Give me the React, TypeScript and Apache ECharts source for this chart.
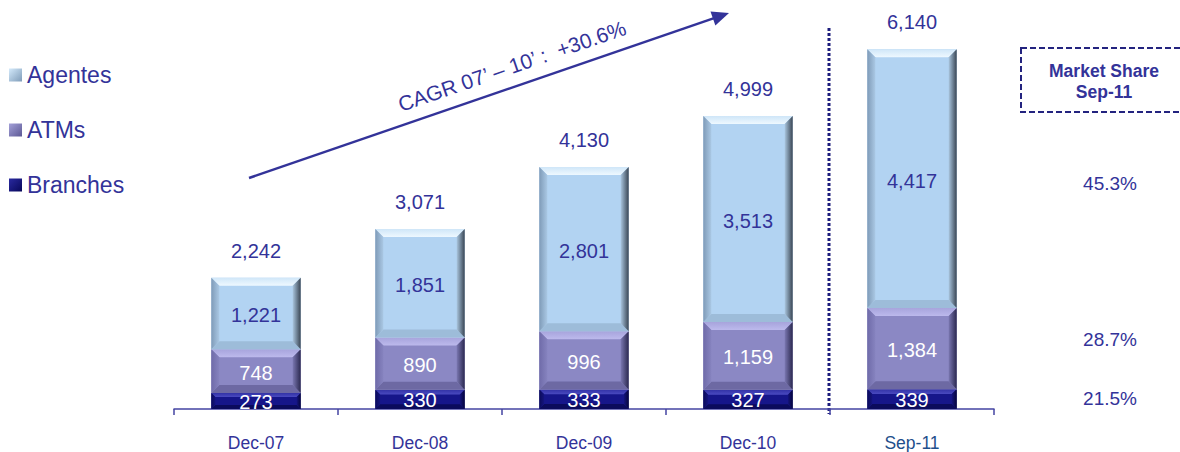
import React, { useEffect, useRef } from "react";
import * as echarts from "echarts";

const categories = ["Dec-07", "Dec-08", "Dec-09", "Dec-10", "Sep-11"];
const branches = [273, 330, 333, 327, 339];
const atms = [748, 890, 996, 1159, 1384];
const agentes = [1221, 1851, 2801, 3513, 4417];
const seriesNames = ["Agentes", "ATMs", "Branches"];
const marketShareTitle = ["Market Share", "Sep-11"];
const marketShare = ["45.3%", "28.7%", "21.5%"]; // Agentes, ATMs, Branches
const cagrLabel = "CAGR 07\u2019 \u2013 10\u2019 :  +30.6%";

const FONT = "'Liberation Sans', Arial, sans-serif";
const TXT = "#333399";

type Pal = { main: string; top: string; topIn: string; left: [string, string]; right: [string, string]; bottom: string; label: string };

const palAgentes: Pal = {
  main: "#b2d3f2",
  top: "#cfe6f8",
  topIn: "#eef8ff",
  left: ["#7f9bb8", "#aac8e4"],
  right: ["#a9c5de", "#3a4654"],
  bottom: "#9dbcd9",
  label: TXT,
};
const palAtms: Pal = {
  main: "#8b88c4",
  top: "#a7a4dc",
  topIn: "#bcb9ec",
  left: ["#6f6ba9", "#8683bf"],
  right: ["#7a77b1", "#2b2950"],
  bottom: "#6d69a3",
  label: "#ffffff",
};
const palBranches: Pal = {
  main: "#16168a",
  top: "#3232a6",
  topIn: "#4a4ac0",
  left: ["#0b0b5a", "#14147e"],
  right: ["#14147e", "#05053a"],
  bottom: "#0b0b5c",
  label: "#ffffff",
};

function lin(x1: number, y1: number, x2: number, y2: number, c: [string, string]) {
  return new echarts.graphic.LinearGradient(x1, y1, x2, y2, [
    { offset: 0, color: c[0] },
    { offset: 1, color: c[1] },
  ]);
}

function makeRender(pal: Pal, values: number[], showTotal: boolean, totals: number[], labelDy: number) {
  return (params: any, api: any) => {
    const i = api.value(0);
    const lo = api.value(1);
    const hi = api.value(2);
    const p0 = api.coord([i, lo]);
    const p1 = api.coord([i, hi]);
    const bw = api.size([1, 0])[0] * 0.545;
    const x = p0[0] - bw / 2;
    const y = p1[1];
    const w = bw;
    const h = p0[1] - p1[1];
    const b = Math.min(8, h / 4);
    const children: any[] = [
      { type: "rect", shape: { x, y, width: w, height: h }, style: { fill: pal.main } },
      {
        type: "polygon",
        shape: { points: [[x, y], [x + w, y], [x + w - b, y + b], [x + b, y + b]] },
        style: { fill: lin(0, 0, 0, 1, [pal.top, pal.topIn]) },
      },
      {
        type: "polygon",
        shape: { points: [[x, y + h], [x + w, y + h], [x + w - b, y + h - b], [x + b, y + h - b]] },
        style: { fill: pal.bottom },
      },
      {
        type: "polygon",
        shape: { points: [[x, y], [x + b, y + b], [x + b, y + h - b], [x, y + h]] },
        style: { fill: lin(0, 0, 1, 0, pal.left) },
      },
      {
        type: "polygon",
        shape: { points: [[x + w, y], [x + w - b, y + b], [x + w - b, y + h - b], [x + w, y + h]] },
        style: { fill: lin(0, 0, 1, 0, pal.right) },
      },
      {
        type: "text",
        z2: 10,
        style: {
          x: p0[0],
          y: y + h / 2 + labelDy,
          text: values[i].toLocaleString("en-US"),
          textAlign: "center",
          textVerticalAlign: "middle",
          fill: pal.label,
          font: `20px ${FONT}`,
        },
      },
    ];
    if (showTotal) {
      children.push({
        type: "text",
        z2: 10,
        style: {
          x: p0[0],
          y: y - 27,
          text: totals[i].toLocaleString("en-US"),
          textAlign: "center",
          textVerticalAlign: "middle",
          fill: TXT,
          font: `20px ${FONT}`,
        },
      });
    }
    return { type: "group", children };
  };
}

export default function App() {
  const ref = useRef<HTMLDivElement>(null);
  useEffect(() => {
    if (!ref.current) return;
    const chart = echarts.init(ref.current, null, { renderer: "svg" });
    const totals = categories.map((_, i) => branches[i] + atms[i] + agentes[i]);
    const dBranches = categories.map((_, i) => [i, 0, branches[i]]);
    const dAtms = categories.map((_, i) => [i, branches[i], branches[i] + atms[i]]);
    const dAgentes = categories.map((_, i) => [i, branches[i] + atms[i], totals[i]]);

    // arrow geometry
    const ax1 = 249, ay1 = 178, ax2 = 729, ay2 = 13;
    const len = Math.hypot(ax2 - ax1, ay2 - ay1);
    const dx = (ax2 - ax1) / len, dy = (ay2 - ay1) / len;
    const hl = 17, hw = 7.5;
    const bx = ax2 - dx * hl, by = ay2 - dy * hl;
    const ang = Math.atan2(-(ay2 - ay1), ax2 - ax1);

    chart.setOption({
      animation: false,
      textStyle: { fontFamily: FONT },
      grid: { left: 174, right: 186, top: 0, bottom: 42 },
      legend: {
        orient: "vertical",
        left: 9,
        top: 63,
        padding: 0,
        itemWidth: 13,
        itemHeight: 13,
        itemGap: 31,
        icon: "rect",
        data: seriesNames,
        textStyle: { color: TXT, fontSize: 23, lineHeight: 24, fontFamily: FONT },
        selectedMode: false,
      },
      xAxis: {
        type: "category",
        data: categories.map((c, i) =>
          i === categories.length - 1 ? { value: c, textStyle: { color: "#1f4f8c" } } : c
        ),
        axisLine: { lineStyle: { color: "#4444a2", width: 1.5 } },
        axisTick: { show: true, length: 6, lineStyle: { color: "#4444a2", width: 1.5 } },
        axisLabel: { color: TXT, fontSize: 17.5, margin: 25, fontFamily: FONT },
      },
      yAxis: { type: "value", min: 0, max: 6980, show: false, splitLine: { show: false } },
      series: [
        {
          name: "Branches",
          type: "custom",
          renderItem: makeRender(palBranches, branches, false, totals, 1),
          encode: { x: 0, y: [1, 2] },
          itemStyle: { color: lin(0, 0, 1, 1, ["#2a2aa0", "#08085a"]) },
          data: dBranches,
        },
        {
          name: "ATMs",
          type: "custom",
          renderItem: makeRender(palAtms, atms, false, totals, 1.5),
          encode: { x: 0, y: [1, 2] },
          itemStyle: { color: lin(0, 0, 1, 1, ["#a3a0d8", "#5c5894"]) },
          data: dAtms,
        },
        {
          name: "Agentes",
          type: "custom",
          renderItem: makeRender(palAgentes, agentes, true, totals, 2),
          encode: { x: 0, y: [1, 2] },
          itemStyle: { color: lin(0, 0, 1, 1, ["#d4eafb", "#7f9cb9"]) },
          data: dAgentes,
        },
      ],
      graphic: [
        {
          type: "line",
          shape: { x1: 829, y1: 28, x2: 829, y2: 414 },
          style: { stroke: "#1c1c7c", lineWidth: 3, lineDash: [3, 2] },
        },
        {
          type: "line",
          shape: { x1: ax1, y1: ay1, x2: bx + dx * 2, y2: by + dy * 2 },
          style: { stroke: TXT, lineWidth: 2.5 },
        },
        {
          type: "polygon",
          shape: {
            points: [
              [ax2, ay2],
              [bx - dy * hw, by + dx * hw],
              [bx + dy * hw, by - dx * hw],
            ],
          },
          style: { fill: TXT },
        },
        {
          type: "text",
          x: 512,
          y: 66,
          rotation: ang,
          style: {
            text: cagrLabel,
            textAlign: "center",
            textVerticalAlign: "middle",
            fill: TXT,
            font: `21px ${FONT}`,
          },
        },
        {
          type: "rect",
          shape: { x: 1021, y: 48, width: 200, height: 64 },
          style: { fill: "none", stroke: "#23237f", lineWidth: 2, lineDash: [6, 3] },
        },
        {
          type: "text",
          x: 1104,
          y: 71,
          style: {
            text: marketShareTitle[0],
            textAlign: "center",
            textVerticalAlign: "middle",
            fill: TXT,
            font: `bold 17.5px ${FONT}`,
          },
        },
        {
          type: "text",
          x: 1104,
          y: 92,
          style: {
            text: marketShareTitle[1],
            textAlign: "center",
            textVerticalAlign: "middle",
            fill: TXT,
            font: `bold 17.5px ${FONT}`,
          },
        },
        ...marketShare.map((t, k) => ({
          type: "text",
          x: 1110,
          y: [183, 339, 398][k],
          style: {
            text: t,
            textAlign: "center",
            textVerticalAlign: "middle",
            fill: TXT,
            font: `19px ${FONT}`,
          },
        })),
      ],
    });
    return () => chart.dispose();
  }, []);
  return (
    <div
      ref={ref}
      style={{ position: "absolute", left: 0, top: 0, width: 1180, height: 452, background: "#ffffff" }}
    />
  );
}
